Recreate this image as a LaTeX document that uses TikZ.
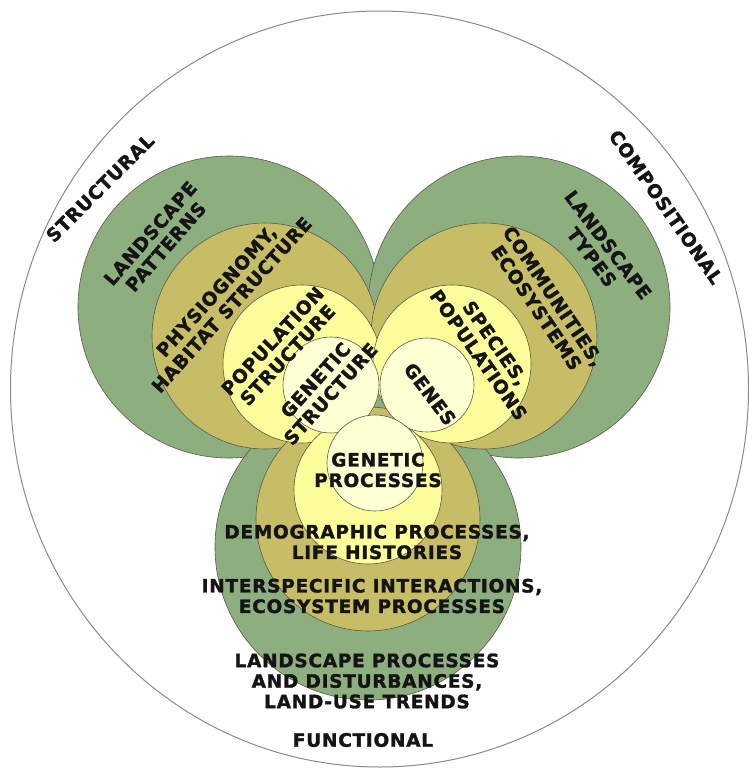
\documentclass[tikz,border=0pt]{standalone}
\usepackage{fontspec}
\newfontfamily\labfont[LetterSpace=4,FakeBold=1.6]{DejaVu Sans Bold}
\definecolor{sagefill}{HTML}{8DAE7E}
\definecolor{olvfill}{HTML}{C6BD66}
\definecolor{yelfill}{HTML}{FEFD9C}
\definecolor{palefill}{HTML}{FFFFD4}
\definecolor{ringline}{HTML}{5A5A4A}
\definecolor{outerline}{HTML}{8A8A8A}
\definecolor{labtext}{HTML}{141414}
\tikzset{
  ring/.style={draw=ringline, line width=0.6pt},
  lab/.style={font=\labfont\fontsize{18.5}{20.5}\selectfont, align=center, inner sep=0pt, text=labtext},
}
\begin{document}
\begin{tikzpicture}[x=1pt,y=-1pt]
\useasboundingbox (0,0) rectangle (749,769);
\fill[white] (0,0) rectangle (749,769);
% outer
\draw[outerline, line width=1pt] (379.5,389) ellipse [x radius=369pt, y radius=378pt];
% greens
\fill[sagefill, ring] (229,307) circle[radius=151pt];
\fill[sagefill, ring] (519,307) circle[radius=151pt];
\fill[sagefill, ring] (368,547) circle[radius=153pt];
% olives
\fill[olvfill, ring] (265,336) circle[radius=113pt];
\fill[olvfill, ring] (484,336) circle[radius=113pt];
\fill[olvfill, ring] (368,519) circle[radius=112pt];
% yellows
\fill[yelfill, ring] (302,364) circle[radius=79pt];
\fill[yelfill, ring] (452,364) circle[radius=79pt];
\fill[yelfill, ring] (368,490) circle[radius=74pt];
% innermost
\fill[palefill, ring] (331,385) circle[radius=48pt];
\fill[palefill, ring] (427,385) circle[radius=47pt];
\fill[palefill, ring] (375,463) circle[radius=48pt];
% outer labels
\node[lab, rotate=45] (structural) at (100,188) {STRUCTURAL};
\node[lab, rotate=-55] (compositional) at (666,207) {COMPOSITIONAL};
\node[lab] (functional) at (363,740) {FUNCTIONAL};
% structural
\node[lab, rotate=49] (lpat) at (158,240) {LANDSCAPE\\PATTERNS};
\node[lab, rotate=48] (phys) at (224,298) {PHYSIOGNOMY,\\HABITAT STRUCTURE};
\node[lab, rotate=47] (popstr) at (280,348) {POPULATION\\STRUCTURE};
\node[lab, rotate=48] (genstr) at (323,387) {GENETIC\\STRUCTURE};
% compositional
\node[lab, rotate=-53] (genes) at (430,394) {GENES};
\node[lab, rotate=-55] (species) at (487,349) {SPECIES,\\POPULATIONS};
\node[lab, rotate=-56] (comm) at (545,302) {COMMUNITIES,\\ECOSYSTEMS};
\node[lab, rotate=-53] (ltypes) at (600,251) {LANDSCAPE\\TYPES};
% functional
\node[lab] (genproc) at (378,470) {GENETIC\\PROCESSES};
\node[lab] (demo) at (377,542) {DEMOGRAPHIC PROCESSES,\\LIFE HISTORIES};
\node[lab] (inter) at (372,596) {INTERSPECIFIC INTERACTIONS,\\ECOSYSTEM PROCESSES};
\node[lab] (lproc) at (367,681) {LANDSCAPE PROCESSES\\AND DISTURBANCES,\\LAND-USE TRENDS};
\end{tikzpicture}
\end{document}
